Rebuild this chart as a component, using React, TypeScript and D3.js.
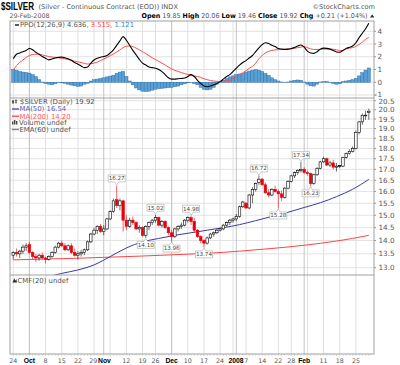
import React from "react";
import * as d3 from "d3";

// ---------- categories (trading days) ----------
const START = "2007-09-24";
const END = "2008-02-29";
const HOLIDAYS = ["2007-11-22", "2007-12-25", "2008-01-01", "2008-01-21"];

function tradingDays(start: string, end: string, holidays: string[]) {
  const out: string[] = [];
  const d = new Date(start + "T00:00:00Z");
  const e = new Date(end + "T00:00:00Z");
  while (d <= e) {
    const wd = d.getUTCDay();
    const s = d.toISOString().slice(0, 10);
    if (wd !== 0 && wd !== 6 && !holidays.includes(s)) out.push(s);
    d.setUTCDate(d.getUTCDate() + 1);
  }
  return out;
}
const DATES = tradingDays(START, END, HOLIDAYS);

// ---------- price series ----------
const OPEN = [
  13.45, 13.55, 13.5, 13.6, 13.75, 13.85, 13.55, 13.4, 13.35, 13.45,
  13.35, 13.3, 13.4, 13.55, 13.75, 13.9, 13.8, 13.65, 13.8, 13.55,
  13.45, 13.5, 13.55, 13.65, 13.95, 14.25, 14.4, 14.55, 14.35, 14.45,
  14.85, 15.15, 15.65, 15.4, 15.6, 14.8, 14.55, 14.8, 14.7, 14.45,
  14.5, 14.2, 14.55, 14.7, 14.8, 14.9, 14.6, 14.75, 14.5, 14.3,
  14.15, 14.45, 14.55, 14.6, 14.8, 14.9, 14.75, 14.4, 14.15, 14.0,
  13.9, 14.1, 14.25, 14.3, 14.4, 14.45, 14.6, 14.7, 14.8, 14.85,
  14.95, 15.35, 15.5, 15.3, 15.85, 16.1, 16.4, 16.55, 16.3, 15.95,
  15.85, 16.1, 16.0, 15.9, 15.75, 16.15, 16.45, 16.7, 16.85, 16.95,
  17.0, 16.85, 16.8, 16.35, 16.75, 17.05, 17.35, 17.5, 17.2, 17.3,
  17.1, 17.18, 17.15, 17.55, 17.75, 17.85, 18.0, 18.8, 19.35, 19.7,
  19.85,
];
const HIGH = [
  13.6, 13.7, 13.65, 13.85, 13.9, 13.95, 13.6, 13.5, 13.5, 13.55,
  13.4, 13.45, 13.6, 13.8, 13.95, 14.0, 13.9, 13.85, 13.9, 13.7,
  13.6, 13.65, 13.7, 14.0, 14.3, 14.5, 14.6, 14.65, 14.6, 14.9,
  15.2, 15.7, 16.27, 15.7, 15.65, 15.0, 14.9, 14.95, 14.75, 14.6,
  14.55, 14.6, 14.75, 14.85, 15.02, 14.95, 14.8, 14.8, 14.55, 14.4,
  14.5, 14.6, 14.7, 14.85, 14.95, 14.98, 14.9, 14.45, 14.2, 14.05,
  14.15, 14.3, 14.35, 14.45, 14.5, 14.65, 14.75, 14.85, 14.9, 15.05,
  15.4, 15.6, 15.55, 15.9, 16.2, 16.4, 16.72, 16.6, 16.4, 16.1,
  16.15, 16.25, 16.1, 16.05, 16.2, 16.5, 16.75, 16.9, 17.0, 17.34,
  17.1, 16.95, 16.85, 16.8, 17.1, 17.4, 17.6, 17.55, 17.4, 17.45,
  17.3, 17.2, 17.6, 17.8, 17.95, 18.1, 18.9, 19.4, 19.8, 19.95,
  20.06,
];
const LOW = [
  13.3, 13.4, 13.35, 13.5, 13.6, 13.5, 13.3, 13.2, 13.25, 13.3,
  13.15, 13.25, 13.35, 13.5, 13.7, 13.75, 13.6, 13.6, 13.5, 13.4,
  13.3, 13.4, 13.45, 13.6, 13.9, 14.2, 14.25, 14.3, 14.2, 14.4,
  14.8, 15.1, 15.3, 15.2, 14.35, 14.4, 14.5, 14.6, 14.4, 14.3,
  14.15, 14.1, 14.4, 14.6, 14.7, 14.55, 14.5, 14.45, 14.2, 13.96,
  14.1, 14.35, 14.45, 14.55, 14.7, 14.6, 14.3, 14.1, 13.9, 13.74,
  13.85, 14.05, 14.15, 14.25, 14.35, 14.4, 14.55, 14.6, 14.7, 14.75,
  14.9, 15.3, 15.25, 15.25, 15.5, 16.0, 16.3, 16.25, 15.9, 15.75,
  15.8, 15.95, 15.28, 15.6, 15.7, 16.1, 16.4, 16.6, 16.75, 16.85,
  16.8, 16.7, 16.23, 16.3, 16.7, 17.0, 17.3, 17.15, 17.1, 17.0,
  16.9, 17.05, 17.1, 17.5, 17.7, 17.8, 17.95, 18.7, 19.2, 19.45,
  19.46,
];
const CLOSE = [
  13.55, 13.5, 13.6, 13.75, 13.8, 13.55, 13.4, 13.35, 13.45, 13.35,
  13.3, 13.4, 13.55, 13.75, 13.9, 13.8, 13.65, 13.8, 13.55, 13.45,
  13.5, 13.55, 13.65, 13.95, 14.25, 14.4, 14.55, 14.35, 14.45, 14.85,
  15.15, 15.6, 15.4, 15.6, 14.8, 14.55, 14.8, 14.7, 14.45, 14.5,
  14.2, 14.55, 14.7, 14.8, 14.9, 14.6, 14.75, 14.5, 14.3, 14.15,
  14.45, 14.55, 14.6, 14.8, 14.9, 14.75, 14.4, 14.15, 14.0, 13.9,
  14.1, 14.25, 14.3, 14.4, 14.45, 14.6, 14.7, 14.8, 14.85, 14.95,
  15.35, 15.55, 15.3, 15.85, 16.1, 16.35, 16.55, 16.3, 15.95, 15.85,
  16.1, 16.0, 15.9, 15.75, 16.15, 16.45, 16.7, 16.85, 16.95, 17.0,
  16.85, 16.8, 16.35, 16.75, 17.05, 17.35, 17.5, 17.2, 17.3, 17.1,
  17.15, 17.15, 17.55, 17.75, 17.85, 18.0, 18.8, 19.35, 19.7, 19.71,
  19.92,
];

// moving averages: [trading-day index, value]
const MA50: [number, number][] = [
  [0, 12.45], [5, 12.55], [10, 12.66], [15, 12.8], [20, 12.92], [25, 13.1],
  [30, 13.4], [35, 13.72], [40, 13.95], [45, 14.08], [50, 14.2], [55, 14.3],
  [60, 14.4], [65, 14.5], [70, 14.62], [75, 14.78], [80, 14.95], [85, 15.12],
  [90, 15.32], [95, 15.52], [100, 15.78], [105, 16.1], [110, 16.54],
];
const MA200: [number, number][] = [
  [0, 13.28], [10, 13.31], [20, 13.34], [30, 13.38], [40, 13.42], [50, 13.47],
  [60, 13.52], [70, 13.6], [80, 13.7], [90, 13.82], [100, 13.98], [105, 14.08],
  [110, 14.2],
];

// PPO(12,26,9)
const PPO = [
  1.85, 2.2, 2.3, 2.4, 2.5, 2.65, 2.55, 2.35, 2.2, 2.02,
  1.88, 1.76, 1.82, 1.9, 1.95, 1.97, 1.92, 1.85, 1.72, 1.55,
  1.42, 1.28, 1.15, 1.2, 1.5, 1.75, 1.88, 1.97, 2.02, 2.1,
  2.3, 2.55, 2.9, 3.25, 3.58, 3.3, 2.9, 2.5, 2.15, 1.8,
  1.5, 1.35, 1.2, 1.15, 1.1, 1.0, 0.84, 0.6, 0.35, 0.25,
  0.25, 0.28, 0.3, 0.33, 0.45, 0.6, 0.45, 0.15, -0.1, -0.3,
  -0.35, -0.3, -0.2, -0.1, 0.05, 0.25, 0.45, 0.6, 0.85, 1.1,
  1.35, 1.55, 1.7, 1.9, 2.1, 2.4, 2.7, 2.95, 3.1, 3.05,
  2.9, 2.8, 2.65, 2.6, 2.58, 2.6, 2.65, 2.72, 2.85, 2.93,
  2.75, 2.45, 2.3, 2.27, 2.4, 2.6, 2.68, 2.66, 2.6, 2.5,
  2.38, 2.35, 2.5, 2.66, 2.75, 2.85, 3.1, 3.5, 3.85, 4.2,
  4.636,
];
const SIGNAL = [
  0.95, 1.3, 1.55, 1.75, 1.95, 2.1, 2.17, 2.2, 2.2, 2.15,
  2.08, 2.02, 1.98, 1.95, 1.92, 1.88, 1.84, 1.78, 1.72, 1.66,
  1.6, 1.55, 1.48, 1.43, 1.45, 1.5, 1.58, 1.7, 1.82, 1.95,
  2.08, 2.22, 2.38, 2.54, 2.72, 2.82, 2.85, 2.8, 2.68, 2.55,
  2.4, 2.25, 2.08, 1.92, 1.78, 1.65, 1.5, 1.35, 1.2, 1.05,
  0.93, 0.85, 0.76, 0.68, 0.62, 0.55, 0.5, 0.45, 0.38, 0.28,
  0.2, 0.14, 0.1, 0.07, 0.06, 0.08, 0.12, 0.15, 0.28, 0.42,
  0.58, 0.75, 0.9, 1.1, 1.25, 1.5, 1.85, 2.1, 2.3, 2.42,
  2.5, 2.54, 2.56, 2.58, 2.59, 2.6, 2.62, 2.65, 2.72, 2.76,
  2.8, 2.72, 2.62, 2.58, 2.57, 2.59, 2.6, 2.6, 2.6, 2.59,
  2.55, 2.48, 2.5, 2.6, 2.68, 2.72, 2.82, 2.97, 3.15, 3.38,
  3.515,
];
const HIST = [
  1.0, 0.95, 0.85, 0.8, 0.77, 0.72, 0.6, 0.45, 0.2, 0.02,
  -0.1, -0.15, -0.2, -0.12, -0.03, -0.05, -0.08, -0.15, -0.22, -0.28,
  -0.32, -0.3, -0.15, -0.08, 0.1, 0.2, 0.25, 0.3, 0.35, 0.42,
  0.48, 0.55, 0.7, 0.8, 0.85, 0.45, 0.1, -0.2, -0.45, -0.6,
  -0.7, -0.73, -0.7, -0.62, -0.55, -0.5, -0.48, -0.45, -0.42, -0.4,
  -0.35, -0.3, -0.2, -0.12, -0.05, 0.0, -0.1, -0.2, -0.4, -0.55,
  -0.6, -0.55, -0.4, -0.15, 0.0, 0.15, 0.3, 0.42, 0.5, 0.6,
  0.65, 0.7, 0.8, 0.88, 0.95, 1.0, 0.95, 0.85, 0.7, 0.55,
  0.35, 0.2, 0.1, 0.02, 0.0, 0.02, 0.1, 0.15, 0.18, 0.15,
  0.02, -0.15, -0.28, -0.3, -0.15, 0.02, 0.05, 0.05, 0.0, -0.1,
  -0.15, -0.12, 0.05, 0.1, 0.15, 0.2, 0.3, 0.5, 0.75, 0.95,
  1.121,
];

// annotated swing highs / lows (trading-day index)
const SWING_HIGHS = [32, 44, 55, 76, 89];
const SWING_LOWS = [41, 49, 59, 82, 92];

// axis ticks
const PRICE_TICKS = [13.0, 13.5, 14.0, 14.5, 15.0, 15.5, 16.0, 16.5, 17.0, 17.5, 18.0, 18.5, 19.0, 19.5, 20.0, 20.5];
const PPO_TICKS = [-1, 0, 1, 2, 3, 4];
const X_LABEL_DATES = [
  "2007-09-24", "2007-10-01", "2007-10-08", "2007-10-15", "2007-10-22", "2007-10-29",
  "2007-11-01", "2007-11-12", "2007-11-19", "2007-11-26", "2007-12-03", "2007-12-10",
  "2007-12-17", "2007-12-24", "2008-01-02", "2008-01-07", "2008-01-14", "2008-01-22",
  "2008-01-28", "2008-02-01", "2008-02-11", "2008-02-18", "2008-02-25",
];
const X_LABELS = [
  "24", "Oct", "8", "15", "22", "29", "Nov", "12", "19", "26", "Dec", "10",
  "17", "24", "2008", "7", "14", "22", "28", "Feb", "11", "18", "25",
];
const MONTH_LABELS = ["Oct", "Nov", "Dec", "2008", "Feb"];
const WEEK_GRID_DATES = [
  "2007-09-24", "2007-10-01", "2007-10-08", "2007-10-15", "2007-10-22", "2007-10-29",
  "2007-11-05", "2007-11-12", "2007-11-19", "2007-11-26", "2007-12-03", "2007-12-10",
  "2007-12-17", "2007-12-24", "2007-12-31", "2008-01-07", "2008-01-14", "2008-01-22",
  "2008-01-28", "2008-02-04", "2008-02-11", "2008-02-18", "2008-02-25",
];
const MONTH_GRID_DATES = ["2007-10-01", "2007-11-01", "2007-12-03", "2008-01-02", "2008-02-01"];

const HEADER_DATE = "29-Feb-2008";
const HEADER_CHG = "+0.21 (+1.04%)";

const FONT = "'DejaVu Sans', Verdana, sans-serif";
const BOLD_FONT = "'Liberation Sans', Arial, sans-serif";
const RED = "#e8000b";

export default function App() {
  const W = 400, H = 365;
  const L = 10, R = 374;
  const ppoTop = 21, ppoBot = 98, mainTop = 98, mainBot = 275, cmfBot = 354;

  const x = d3.scaleLinear().domain([-1, 111.6]).range([L, R]);
  const yP = d3.scaleLinear().domain([-1, 4]).range([95, 31.3]);
  const yM = d3.scaleLog().domain([13, 20.5]).range([267.7, 100.7]);
  const idx = (s: string) => DATES.indexOf(s);
  const f2 = d3.format(".2f");
  const f3 = d3.format(".3f");
  const f1 = d3.format(".1f");

  const seriesLine = d3
    .line<number>()
    .x((_, i) => x(i))
    .y((v) => yP(v))
    .curve(d3.curveMonotoneX);
  const maLine = d3
    .line<[number, number]>()
    .x((d) => x(d[0]))
    .y((d) => yM(d[1]))
    .curve(d3.curveMonotoneX);

  const last = DATES.length - 1;
  const bw = 2.5;

  // bottom labels with simple collision avoidance
  const numSize = 6.3, monSize = 6.8;
  const xLabels = X_LABEL_DATES.map((d, k) => {
    const lab = X_LABELS[k];
    const isMonth = MONTH_LABELS.includes(lab);
    const w = isMonth
      ? lab.length * (lab === "2008" ? 0.556 : 0.62) * monSize
      : lab.length * 0.636 * numSize;
    return { lab, isMonth, cx: x(idx(d)), w };
  });
  for (let k = 1; k < xLabels.length; k++) {
    const a = xLabels[k - 1], b = xLabels[k];
    const overlap = a.cx + a.w / 2 + 0.8 - (b.cx - b.w / 2);
    if (overlap > 0) {
      a.cx -= overlap / 2;
      b.cx += overlap / 2;
    }
  }

  return (
    <svg width={W} height={H} style={{ display: "block", position: "absolute", left: 0, top: 0, background: "#fff" }} fontFamily={FONT}>
      <style>{"body{margin:0}"}</style>
      <defs>
        <clipPath id="clipPpo"><rect x={L} y={ppoTop} width={R - L} height={ppoBot - ppoTop} /></clipPath>
        <clipPath id="clipMain"><rect x={L} y={mainTop} width={R - L} height={mainBot - mainTop} /></clipPath>
      </defs>
      <rect x={0} y={0} width={W} height={H} fill="#fff" />

      {/* header */}
      <text x={1} y={10} fontFamily={BOLD_FONT} fontWeight="bold" fontSize={10.5} fill="#000" textLength={33} lengthAdjust="spacingAndGlyphs">$SILVER</text>
      <text x={38.5} y={8.8} fontSize={6.6} fill="#555" textLength={139.5} lengthAdjust="spacingAndGlyphs">(Silver - Continuous Contract (EOD)) INDX</text>
      <text x={375} y={8.8} fontSize={6.6} fill="#555" textAnchor="end">©StockCharts.com</text>
      <text x={9.5} y={17.6} fontSize={6.3} fill="#555" textLength={40} lengthAdjust="spacingAndGlyphs">{HEADER_DATE}</text>
      <text x={141.5} y={17.6} fontSize={6.6} fill="#555" textLength={226} lengthAdjust="spacingAndGlyphs">
        <tspan fontWeight="bold" fill="#000">Open</tspan>
        <tspan>{" " + f2(OPEN[last]) + " "}</tspan>
        <tspan fontWeight="bold" fill="#000">High</tspan>
        <tspan>{" " + f2(HIGH[last]) + " "}</tspan>
        <tspan fontWeight="bold" fill="#000">Low</tspan>
        <tspan>{" " + f2(LOW[last]) + " "}</tspan>
        <tspan fontWeight="bold" fill="#000">Close</tspan>
        <tspan>{" " + f2(CLOSE[last]) + " "}</tspan>
        <tspan fontWeight="bold" fill="#000">Chg</tspan>
        <tspan>{" " + HEADER_CHG}</tspan>
      </text>
      <path d="M370,17.5 L372.2,14.3 L374.4,17.5 Z" fill="#333" />

      {/* horizontal grid */}
      {PPO_TICKS.map((t) => (
        <line key={"pg" + t} x1={L} x2={R} y1={yP(t)} y2={yP(t)} stroke="#e2e2e2" strokeWidth={1} />
      ))}
      {PRICE_TICKS.map((t) => (
        <line key={"mg" + t} x1={L} x2={R} y1={yM(t)} y2={yM(t)} stroke="#e2e2e2" strokeWidth={1} />
      ))}

      {/* vertical grid */}
      {WEEK_GRID_DATES.map((d) => (
        <line key={"wg" + d} x1={x(idx(d))} x2={x(idx(d))} y1={ppoTop} y2={cmfBot} stroke="#e0e0e0" strokeWidth={1} />
      ))}
      {MONTH_GRID_DATES.map((d) => (
        <line key={"mgd" + d} x1={x(idx(d))} x2={x(idx(d))} y1={ppoTop} y2={cmfBot} stroke="#c4c4c4" strokeWidth={1} />
      ))}

      {/* PPO panel */}
      <g clipPath="url(#clipPpo)">
        {HIST.map((v, i) => {
          const y0 = yP(0), y1 = yP(v);
          return (
            <rect key={"h" + i} x={x(i) - 1.62} width={3.23} y={Math.min(y0, y1)} height={Math.max(0.4, Math.abs(y1 - y0))}
              fill="#5aa0d6" stroke="#2a6fa8" strokeWidth={0.45} />
          );
        })}
        <path d={seriesLine(SIGNAL) || ""} fill="none" stroke="#ff4d4d" strokeWidth={1} />
        <path d={seriesLine(PPO) || ""} fill="none" stroke="#000" strokeWidth={1.1} />
      </g>
      <line x1={15} x2={19} y1={25} y2={25} stroke="#000" strokeWidth={1.3} />
      <text x={20} y={27.3} fontSize={6.8} fill="#555">
        <tspan>{"PPO(12,26,9) " + f3(PPO[last]) + ", "}</tspan>
        <tspan fill="#ff4d4d">{f3(SIGNAL[last]) + ","}</tspan>
        <tspan fill="#3d88c4">{" " + f3(HIST[last])}</tspan>
      </text>

      {/* main panel */}
      <g clipPath="url(#clipMain)">
        <path d={maLine(MA200) || ""} fill="none" stroke="#ff4444" strokeWidth={1} />
        <path d={maLine(MA50) || ""} fill="none" stroke="#3a3aa0" strokeWidth={1} />
        {DATES.map((_, i) => {
          const o = OPEN[i], h = HIGH[i], l = LOW[i], c = CLOSE[i];
          const prev = i > 0 ? CLOSE[i - 1] : o;
          const col = c < prev ? RED : "#000";
          const filled = c < o;
          const cx = x(i);
          const yt = yM(Math.max(o, c)), yb = yM(Math.min(o, c));
          return (
            <g key={"c" + i}>
              <line x1={cx} x2={cx} y1={yM(h)} y2={yM(l)} stroke={col} strokeWidth={0.8} opacity={col === RED ? 0.75 : 0.7} />
              <rect x={cx - bw / 2} y={yt} width={bw} height={Math.max(0.8, yb - yt)}
                fill={filled ? col : "#fff"} stroke={col} strokeWidth={0.6} />
            </g>
          );
        })}
      </g>

      {/* swing annotations */}
      {SWING_HIGHS.map((i) => {
        const cx = x(i), y = yM(HIGH[i]);
        const w = 17, h = 7, by = y - 3.5;
        const d = `M${cx - w / 2},${by - h} H${cx + w / 2} V${by} H${cx + 2} L${cx},${y - 0.5} L${cx - 2},${by} H${cx - w / 2} Z`;
        return (
          <g key={"sh" + i}>
            <path d={d} fill="#fff" stroke="#a8a8a8" strokeWidth={0.6} />
            <text x={cx} y={by - 1.6} fontSize={5.6} fill="#444" textAnchor="middle">{f2(HIGH[i])}</text>
          </g>
        );
      })}
      {SWING_LOWS.map((i) => {
        const cx = x(i), y = yM(LOW[i]);
        const w = 17, h = 7, by = y + 3.5;
        const d = `M${cx - w / 2},${by} H${cx - 2} L${cx},${y + 0.5} L${cx + 2},${by} H${cx + w / 2} V${by + h} H${cx - w / 2} Z`;
        return (
          <g key={"sl" + i}>
            <path d={d} fill="#fff" stroke="#a8a8a8" strokeWidth={0.6} />
            <text x={cx} y={by + h - 1.6} fontSize={5.6} fill="#444" textAnchor="middle">{f2(LOW[i])}</text>
          </g>
        );
      })}

      {/* main legend */}
      <g fontSize={6.9}>
        <g>
          <line x1={13} x2={13} y1={99.8} y2={104} stroke="#333" strokeWidth={0.8} />
          <rect x={12.2} y={100.8} width={1.6} height={2} fill="#333" />
          <line x1={16} x2={16} y1={99.5} y2={103.5} stroke="#333" strokeWidth={0.8} />
          <rect x={15.2} y={100.2} width={1.6} height={2.2} fill="#fff" stroke="#333" strokeWidth={0.5} />
          <text x={20} y={104.2} fill="#555">{"$SILVER (Daily) " + f2(CLOSE[last])}</text>
        </g>
        <line x1={12} x2={19} y1={109} y2={109} stroke="#5a5ab0" strokeWidth={1.5} />
        <text x={19.5} y={111.4} fill="#5a5ab0">{"MA(50) " + f2(MA50[MA50.length - 1][1])}</text>
        <line x1={12} x2={19} y1={116.2} y2={116.2} stroke="#ff5a5a" strokeWidth={1.5} />
        <text x={19.5} y={118.6} fill="#ff5a5a">{"MA(200) " + f2(MA200[MA200.length - 1][1])}</text>
        <rect x={12} y={121.5} width={1.4} height={3} fill="#444" />
        <rect x={14} y={120} width={1.4} height={4.5} fill="#444" />
        <rect x={16} y={121} width={1.4} height={3.5} fill="#444" />
        <text x={19} y={125.2} fill="#555">Volume undef</text>
        <line x1={12} x2={19} y1={129.5} y2={129.5} stroke="#888" strokeWidth={1.5} />
        <text x={19.5} y={131.9} fill="#555">EMA(60) undef</text>
      </g>

      {/* CMF legend */}
      <path d="M12.5,282.5 L14.3,278.3 L15.4,280.8 L16.3,279 L17,282.5 Z" fill="#1a3a1a" />
      <text x={17.5} y={282.6} fontSize={6.9} fill="#555">CMF(20) undef</text>

      {/* panel frames */}
      <rect x={L} y={ppoTop} width={R - L} height={cmfBot - ppoTop} fill="none" stroke="#a0a0a0" strokeWidth={1} />
      <line x1={L} x2={R} y1={mainTop} y2={mainTop} stroke="#a0a0a0" strokeWidth={1} />
      <line x1={L} x2={R} y1={mainBot} y2={mainBot} stroke="#a0a0a0" strokeWidth={1} />

      {/* right axes */}
      {PPO_TICKS.map((t) => (
        <g key={"pt" + t}>
          <line x1={R} x2={R + 2} y1={yP(t)} y2={yP(t)} stroke="#999" />
          <text x={382} y={yP(t) + (t === -1 ? 1.8 : 2.6)} fontSize={7.2} fill="#555" textAnchor="end">{String(t)}</text>
        </g>
      ))}
      {PRICE_TICKS.map((t) => (
        <g key={"mt" + t}>
          <line x1={R} x2={R + 2} y1={yM(t)} y2={yM(t)} stroke="#999" />
          <text x={394.5} y={yM(t) + (t === 20.5 ? 3.4 : 2.6)} fontSize={7.2} fill="#555" textAnchor="end">{f1(t)}</text>
        </g>
      ))}

      {/* bottom day ticks & labels */}
      {DATES.map((d, i) => (
        <line key={"dt" + d} x1={x(i)} x2={x(i)} y1={cmfBot} y2={cmfBot + 1.8} stroke="#bbb" strokeWidth={0.6} />
      ))}
      {xLabels.map((t, k) => (
        <text key={"xl" + k} x={t.cx} y={362.5} textAnchor="middle"
          fontFamily={t.isMonth ? BOLD_FONT : FONT}
          fontSize={t.isMonth ? monSize : numSize}
          fill={t.isMonth ? "#000" : "#555"} fontWeight={t.isMonth ? "bold" : "normal"}>{t.lab}</text>
      ))}
    </svg>
  );
}
